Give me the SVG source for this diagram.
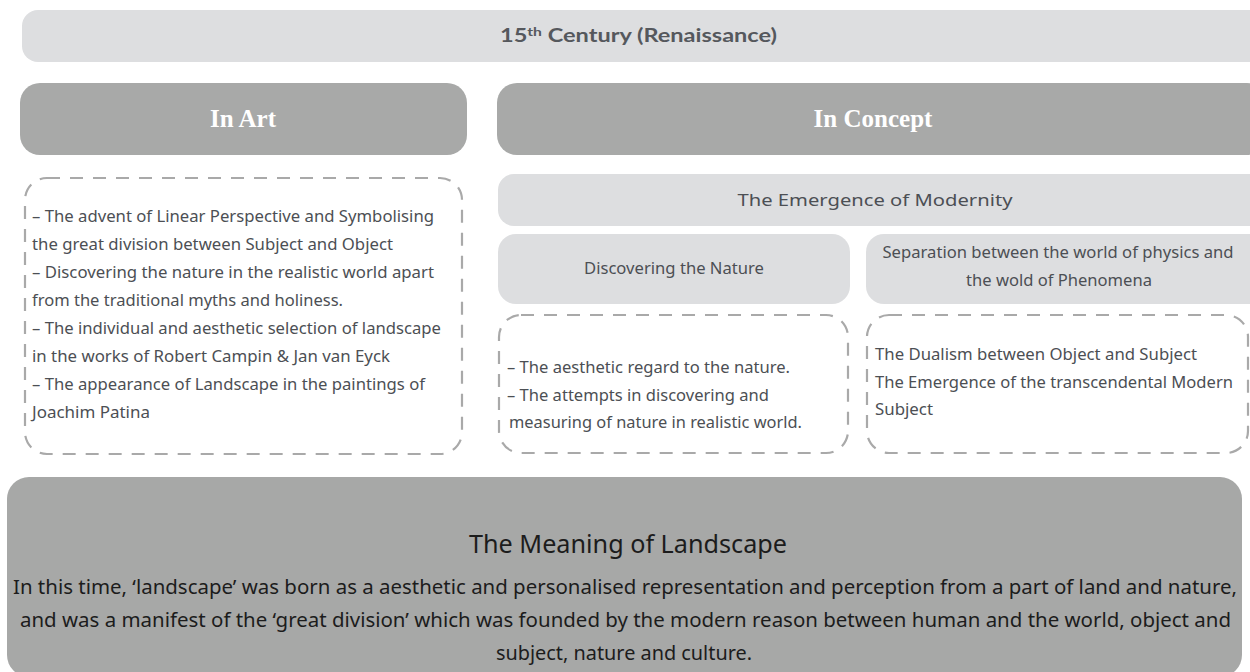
<svg xmlns="http://www.w3.org/2000/svg" width="1250" height="672" viewBox="0 0 1250 672">
<style>
.light{fill:#dddee0;}
.dark{fill:#a8a9a8;}
.dash{fill:none;stroke:#a9a9a9;stroke-width:2.2;stroke-dasharray:13 10;}
.hd{font-family:"Liberation Serif",serif;font-weight:bold;font-size:25px;fill:#ffffff;text-anchor:middle;}
.ttl{font-family:Lato,"Noto Sans",sans-serif;font-weight:bold;font-size:18px;fill:#55585d;}
.tx{font-family:"Noto Sans","Liberation Sans",sans-serif;font-size:17px;fill:#4c4f54;}
.mid{text-anchor:middle;}
.bt{font-family:"Noto Sans","Liberation Sans",sans-serif;fill:#1c1c1c;}
</style>
<rect width="1250" height="672" fill="#ffffff"/>
<g id="century">
<rect class="light" x="22" y="10" width="1243" height="52" rx="16"/>
<text class="ttl" x="500" y="42" textLength="277" lengthAdjust="spacingAndGlyphs">15<tspan font-size="12" dy="-6">th</tspan><tspan dy="6"> Century (Renaissance)</tspan></text>
</g>
<g id="in-art">
<rect class="dark" x="20" y="83" width="447" height="72" rx="20"/>
<text class="hd" x="243" y="127">In Art</text>
</g>
<g id="in-concept">
<rect class="dark" x="497" y="83" width="770" height="72" rx="20"/>
<text class="hd" x="873" y="127">In Concept</text>
</g>
<g id="art-details">
<rect class="dash" x="25" y="178" width="437" height="276" rx="22"/>
<text class="tx" x="32" y="222" textLength="402" lengthAdjust="spacingAndGlyphs">– The advent of Linear Perspective and Symbolising</text>
<text class="tx" x="32" y="250" textLength="361" lengthAdjust="spacingAndGlyphs">the great division between Subject and Object</text>
<text class="tx" x="32" y="278" textLength="402" lengthAdjust="spacingAndGlyphs">– Discovering the nature in the realistic world  apart</text>
<text class="tx" x="32" y="306" textLength="311" lengthAdjust="spacingAndGlyphs">from the traditional myths and holiness.</text>
<text class="tx" x="32" y="334" textLength="409" lengthAdjust="spacingAndGlyphs">– The individual and aesthetic selection of landscape</text>
<text class="tx" x="32" y="362" textLength="358" lengthAdjust="spacingAndGlyphs">in the works of Robert Campin &amp; Jan van Eyck</text>
<text class="tx" x="32" y="390" textLength="393" lengthAdjust="spacingAndGlyphs">– The appearance of Landscape in the paintings of</text>
<text class="tx" x="32" y="418" textLength="118" lengthAdjust="spacingAndGlyphs">Joachim Patina</text>
</g>
<g id="emergence">
<rect class="light" x="498" y="174" width="770" height="52" rx="16"/>
<text class="tx mid" x="875" y="206" font-size="19" textLength="275" lengthAdjust="spacingAndGlyphs">The Emergence of Modernity</text>
</g>
<g id="discovering">
<rect class="light" x="498" y="234" width="352" height="70" rx="18"/>
<text class="tx mid" x="674" y="274" textLength="180" lengthAdjust="spacingAndGlyphs">Discovering the Nature</text>
</g>
<g id="separation">
<rect class="light" x="866" y="234" width="400" height="70" rx="18"/>
<text class="tx mid" x="1058" y="258" textLength="351" lengthAdjust="spacingAndGlyphs">Separation between the world of physics and</text>
<text class="tx mid" x="1059" y="286" textLength="186" lengthAdjust="spacingAndGlyphs">the wold of Phenomena</text>
</g>
<g id="discovering-details">
<rect class="dash" x="499" y="315" width="349" height="138" rx="22"/>
<text class="tx" x="507" y="373" textLength="283" lengthAdjust="spacingAndGlyphs">– The aesthetic regard to the nature.</text>
<text class="tx" x="507" y="401" textLength="262" lengthAdjust="spacingAndGlyphs">– The attempts in discovering and</text>
<text class="tx" x="509" y="428" textLength="293" lengthAdjust="spacingAndGlyphs">measuring of nature in realistic world.</text>
</g>
<g id="separation-details">
<rect class="dash" x="867" y="315" width="381" height="138" rx="22"/>
<text class="tx" x="875" y="360" textLength="322" lengthAdjust="spacingAndGlyphs">The Dualism between Object and Subject</text>
<text class="tx" x="875" y="388" textLength="358" lengthAdjust="spacingAndGlyphs">The Emergence of the transcendental Modern</text>
<text class="tx" x="875" y="415" textLength="58" lengthAdjust="spacingAndGlyphs">Subject</text>
</g>
<g id="meaning">
<rect class="dark" x="7" y="477" width="1235" height="200" rx="22" style="fill:#a7a8a7"/>
<text class="bt mid" x="628" y="553" font-size="26" textLength="318" lengthAdjust="spacingAndGlyphs">The Meaning of Landscape</text>
<text class="bt" x="13" y="594" font-size="19.5" textLength="1224" lengthAdjust="spacingAndGlyphs">In this time,  ‘landscape’ was born as a aesthetic and personalised representation and perception from a part of land and nature,</text>
<text class="bt" x="20" y="627" font-size="19.5" textLength="1211" lengthAdjust="spacingAndGlyphs">and was a manifest of the ‘great division’ which was founded by the modern reason between human and the world, object and</text>
<text class="bt mid" x="624" y="660" font-size="19.5" textLength="256" lengthAdjust="spacingAndGlyphs">subject, nature and culture.</text>
</g>
<g id="connectors"></g>
</svg>
